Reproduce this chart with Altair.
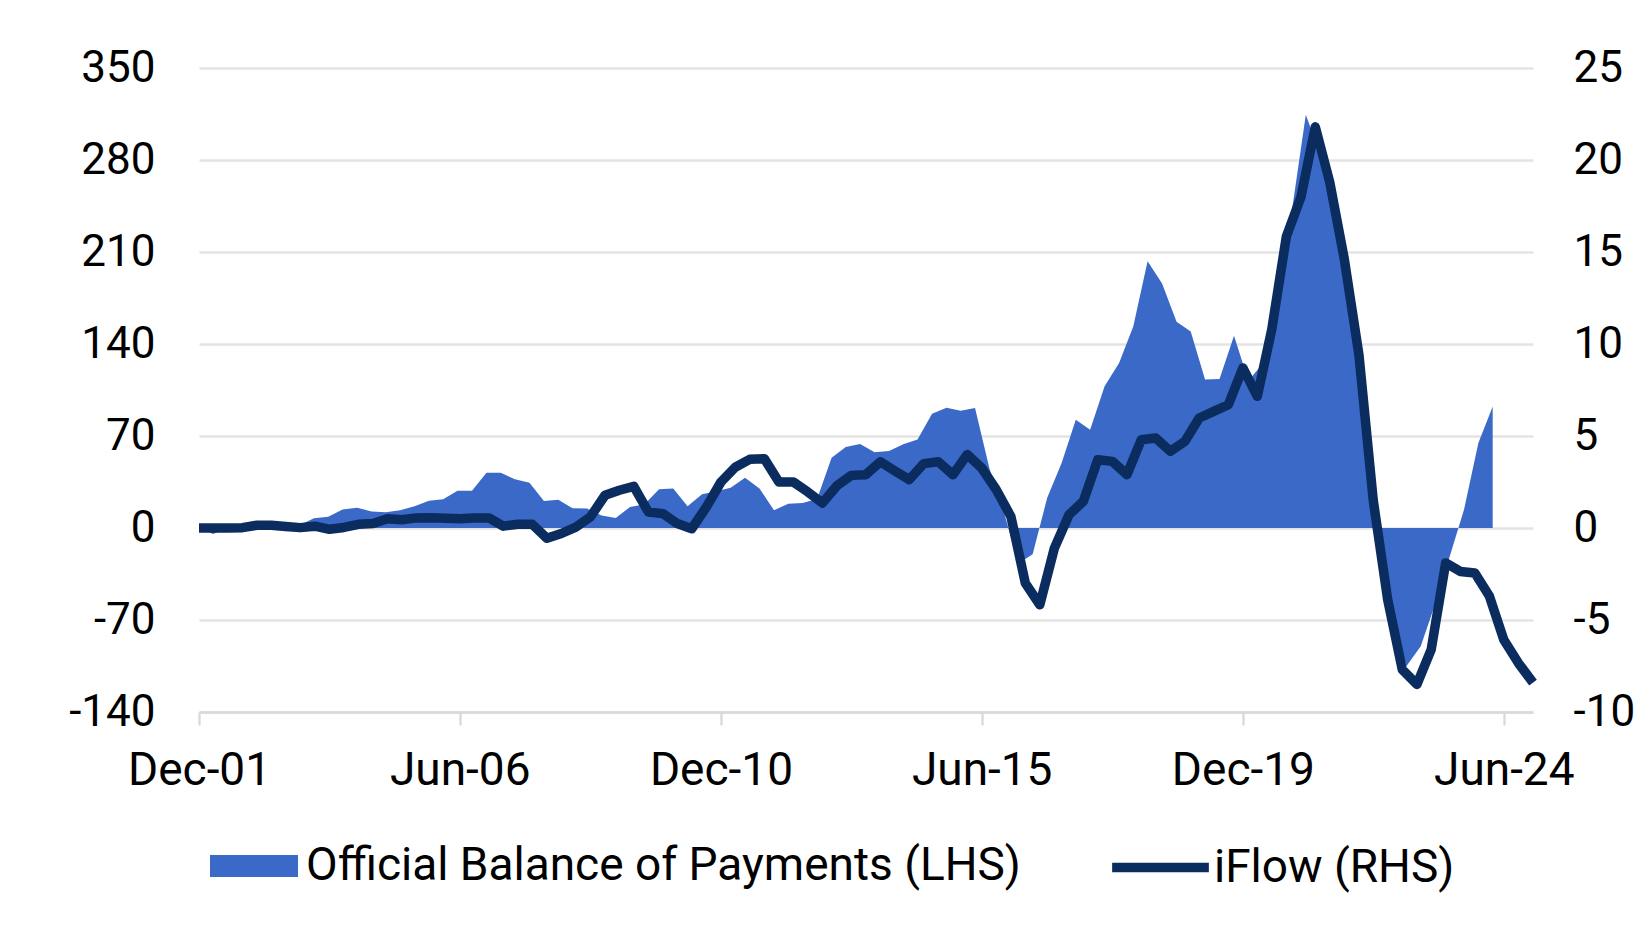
import altair as alt
import pandas as pd

# Quarter-end dates, Dec-01 .. Dec-24
_ends = {3: 31, 6: 30, 9: 30, 12: 31}
quarters = []
_y, _m = 2001, 12
for _ in range(93):
    quarters.append(f"{_y}-{_m:02d}-{_ends[_m]}")
    _m += 3
    if _m > 12:
        _m -= 12
        _y += 1

# Official Balance of Payments (LHS), Dec-01 .. Jun-24
bop = [
    0, -4.6, 0, 1, 2, 2, 1, 2, 7.4, 8.5,
    14, 15.5, 12.5, 12, 13.5, 16.5, 20.8, 21.8, 28.4, 28.4,
    42, 42, 37, 34.5, 20.5, 21.5, 15, 14.8, 9.6, 7.6,
    16, 18, 29.4, 30, 16.5, 25.6, 28, 30.7, 38.3, 30,
    13.5, 18.5, 19, 22, 53.5, 61.7, 64, 57.6, 58.6, 63.7,
    67.3, 87, 91.5, 89.3, 91.3, 45, 12, -27, -20, 22.8,
    49.5, 82.4, 74.8, 107.8, 125.5, 153.4, 203, 186, 157, 149.6,
    112.9, 113.4, 146.3, 112, 125, 185, 240, 314.5, 285, 236,
    175, 87, -10, -70, -105, -90, -58, -22, 14, 64.7,
    92.5,
]

# iFlow (RHS), Dec-01 .. Dec-24
iflow = [
    0, 0, 0, 0.02, 0.15, 0.15, 0.08, 0.02, 0.1, -0.07,
    0.03, 0.2, 0.25, 0.5, 0.45, 0.55, 0.56, 0.53, 0.5, 0.54,
    0.55, 0.1, 0.2, 0.2, -0.56, -0.3, 0.05, 0.6, 1.78, 2.05,
    2.26, 0.87, 0.78, 0.24, -0.04, 1.14, 2.5, 3.3, 3.73, 3.77,
    2.5, 2.5, 1.96, 1.36, 2.3, 2.86, 2.9, 3.6, 3.1, 2.63,
    3.5, 3.6, 2.9, 3.99, 3.26, 2.08, 0.63, -3.0, -4.17, -1.09,
    0.72, 1.45, 3.71, 3.62, 2.9, 4.8, 4.89, 4.17, 4.71, 5.98,
    6.34, 6.7, 8.7, 7.16, 10.8, 15.85, 18.0, 21.8, 18.8, 14.6,
    9.4, 1.5, -3.9, -7.7, -8.5, -6.6, -1.9, -2.36, -2.45, -3.7,
    -6.07, -7.34, -8.4,
]

left_ticks = [-140, -70, 0, 70, 140, 210, 280, 350]
right_ticks = [-10, -5, 0, 5, 10, 15, 20, 25]
tick_dates = [(2001, 12, 31), (2006, 6, 30), (2010, 12, 31), (2015, 6, 30), (2019, 12, 31), (2024, 6, 30)]

BOP_NAME = "Official Balance of Payments (LHS)"
IFLOW_NAME = "iFlow (RHS)"
BOP_COLOR = "#3A69C8"
IFLOW_COLOR = "#0B2C5E"
FONT = "Roboto"


def dt(t):
    return alt.DateTime(year=t[0], month=t[1], date=t[2], utc=True)


area_df = pd.DataFrame({"date": quarters[:len(bop)], "bop": bop, "series": BOP_NAME})
line_df = pd.DataFrame({"date": quarters, "iflow": iflow, "series": IFLOW_NAME})

area = alt.Chart(area_df).mark_area(interpolate="linear", opacity=1).encode(
    x=alt.X("date:T",
            scale=alt.Scale(type="utc", domain=[dt((2001, 12, 31)), dt((2025, 3, 13))], nice=False),
            axis=None),
    y=alt.Y("bop:Q",
            scale=alt.Scale(domain=[-140, 350], nice=False, zero=False),
            axis=alt.Axis(orient="left", values=left_ticks, grid=True, ticks=False, tickSize=0,
                          domain=False, labelPadding=44, labelExpr="'' + datum.value", title=None)),
    fill=alt.Fill("series:N",
                  scale=alt.Scale(domain=[BOP_NAME], range=[BOP_COLOR]),
                  legend=alt.Legend(orient="none", legendX=11, legendY=754, title=None,
                                    symbolType="M-1,-0.25H1V0.25H-1Z", symbolSize=7744,
                                    symbolStrokeWidth=0, symbolOpacity=1, labelOffset=8,
                                    labelLimit=0, padding=0)),
)

line = alt.Chart(line_df).mark_line(strokeWidth=9.5, strokeJoin="round").encode(
    x=alt.X("date:T",
            scale=alt.Scale(type="utc", domain=[dt((2001, 12, 31)), dt((2024, 12, 31))], nice=False),
            axis=alt.Axis(orient="bottom", values=[dt(t) for t in tick_dates],
                          labelExpr="utcFormat(datum.value, '%b-%y')",
                          grid=False, ticks=True, tickSize=13, domain=True, labelFontSize=46,
                          labelPadding=23, labelFlush=False, labelOverlap=False, title=None)),
    y=alt.Y("iflow:Q",
            scale=alt.Scale(domain=[-10, 25], nice=False, zero=False),
            axis=alt.Axis(orient="right", values=right_ticks, grid=False, ticks=False, tickSize=0,
                          domain=False, labelPadding=40, labelExpr="'' + datum.value", title=None)),
    stroke=alt.Stroke("series:N",
                      scale=alt.Scale(domain=[IFLOW_NAME], range=[IFLOW_COLOR]),
                      legend=alt.Legend(orient="none", legendX=908, legendY=746, title=None,
                                        symbolType="stroke", symbolSize=9351, symbolStrokeWidth=9.5,
                                        labelOffset=0, labelLimit=0, padding=0)),
)

chart = alt.layer(area, line).resolve_scale(
    x="independent", y="independent", fill="independent", stroke="independent"
).properties(
    width=1334, height=644,
    padding={"left": 191, "top": 60, "right": 104, "bottom": 200},
    autosize=alt.AutoSizeParams(type="none"),
    background="white",
).configure_view(stroke=None).configure_axis(
    labelFont=FONT, labelFontSize=44, labelColor="#000000",
    gridColor="#e3e3e3", gridWidth=2.3,
    domainColor="#d9d9d9", domainWidth=2.3,
    tickColor="#d9d9d9", tickWidth=2.3,
).configure_legend(
    labelFont=FONT, labelFontSize=46, labelColor="#000000",
)

chart.save("out.html", embed_options={"renderer": "svg", "actions": False})
